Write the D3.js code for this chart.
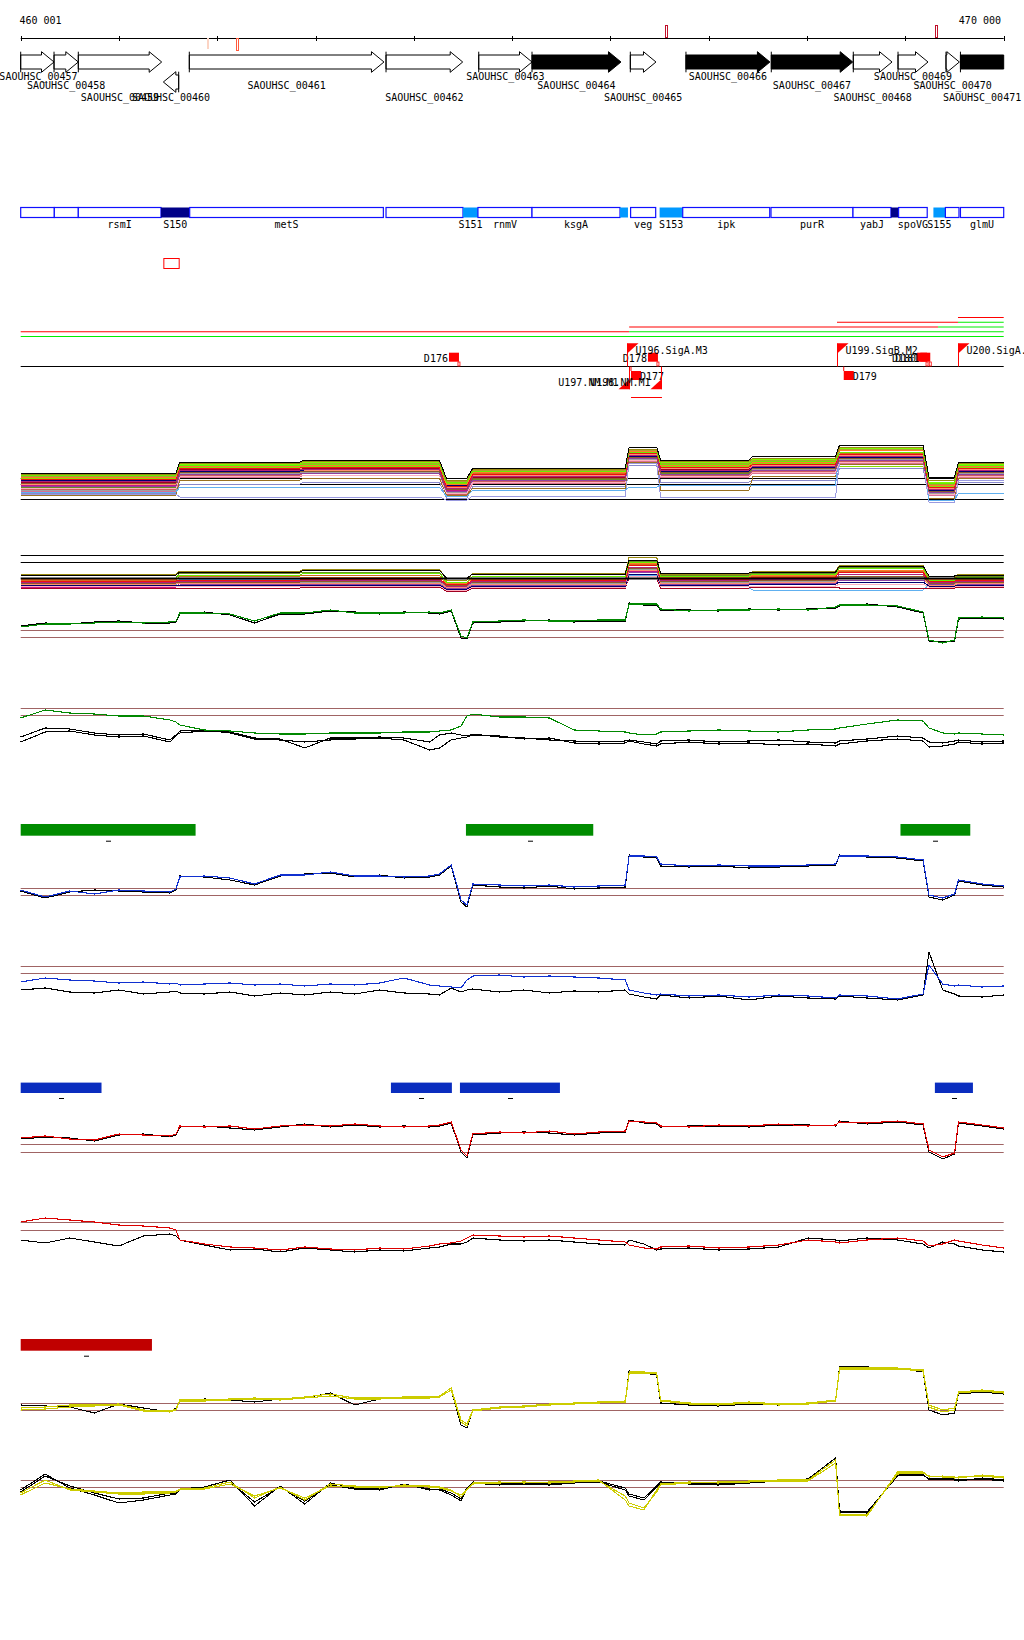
<!DOCTYPE html>
<html>
<head>
<meta charset="utf-8">
<script src="https://cdn.jsdelivr.net/npm/d3@7"></script>
<style>
  body { margin: 0; background: #fff; }
  text { font-family: "DejaVu Sans Mono", monospace; font-size: 10px; fill: #000; }
</style>
</head>
<body>
<div id="chart"></div>
<script>
/** DATA */
// genes (bp)
const geneNames  = ["SAOUHSC_00457","SAOUHSC_00458","SAOUHSC_00459","SAOUHSC_00460","SAOUHSC_00461","SAOUHSC_00462","SAOUHSC_00463","SAOUHSC_00464","SAOUHSC_00465","SAOUHSC_00466","SAOUHSC_00467","SAOUHSC_00468","SAOUHSC_00469","SAOUHSC_00470","SAOUHSC_00471"];
const geneStart  = [460001,460340,460587,461452,461716,463717,464660,465202,466202,466768,467636,468470,468925,469413,469560];
const geneEnd    = [460340,460587,461435,461608,463696,464497,465202,466107,466463,467622,468464,468864,469230,469549,470100];
const geneStrand = ["+","+","+","-","+","+","+","+","+","+","+","+","+","+","+"];
const geneEssential = [0,0,0,0,0,0,0,1,0,1,1,0,0,0,1];

// snp-like marks on the ruler
const rulerMarkPos  = [461896, 462186, 466550, 469301];
const rulerMarkKind = ["light", "low", "high", "high"];

// annotated features (blue track)
const featStart = [460001,460343,460587,461428,461720,463717,464500,464652,465202,466097,466205,466500,466735,467633,468467,468853,468931,469285,469407,469560];
const featEnd   = [460343,460587,461428,461720,463690,464500,464652,465202,466097,466178,466460,466735,467620,468467,468853,468931,469222,469407,469545,470000];
const featType  = ["cds","cds","cds","srna","cds","cds","utr","cds","cds","utr","cds","utr","cds","cds","cds","srna","cds","utr","cds","cds"];
const featName  = ["","","rsmI","S150","metS","","S151","rnmV","ksgA","","veg","S153","ipk","purR","yabJ","","spoVG","S155","","glmU"];

const boxStart = [461452], boxEnd = [461608];

// transcripts
const txStart = [460001,460001,466190,466190,469332,468304,469535,469535];
const txEnd   = [470000,466190,470000,469332,470000,469535,470000,470000];
const txLevel = [0,1,1,2,2,3,3,4];
const txType  = ["g","r","g","r","g","r","g","r"];

// terminators / promoters
const termNames  = ["D176","D178","D177","D179","D180","D181"];
const termPos    = [464459,466483,466209,468373,469220,469253];
const termStrand = ["+","+","-","-","+","+"];
const promNames  = ["U196.SigA.M3","U197.NM.M1","U198.NM.M1","U199.SigB.M2","U200.SigA.M3"];
const promPos    = [466168,466185,466517,468304,469535];
const promStrand = ["+","-","-","+","+"];
const operonStart = [466209], operonEnd = [466524];

// shared sample positions for the profile tracks
const pos = [460000,460250,460500,460750,461000,461250,461520,461580,461620,461870,462130,462380,462640,462890,463150,463400,463650,463900,464160,464260,464380,464480,464540,464600,464870,465120,465380,465630,465880,466150,466190,466340,466470,466510,466800,467100,467410,467710,468010,468290,468330,468610,468920,469180,469240,469380,469500,469540,469780,470000];

const green1Green = [23,26,26,27,28,27,28,29,37,37,36,29,37,37,40,37,37,37,38,37,40,14,12,28,29,30,29,29,30,30,46,46,46,41,39,40,40,41,40,43,45,45,44,38,10,7,10,32,33,32];
const green1Black = [24,27,26,28,29,27,27,28,36,38,35,27,36,36,39,38,36,38,37,36,39,12,11,27,28,29,30,28,29,29,47,45,45,40,40,39,41,40,41,42,44,46,43,37,9,8,9,31,32,31];
const green2Green = [42,50,47,46,44,44,40,38,35,30,29,27,26,26,27,27,27,28,28,29,30,34,44,46,43,43,42,30,29,28,27,25,26,28,29,30,29,28,30,31,32,36,40,39,32,27,26,27,26,25];
const green2BlackA = [23,32,31,27,25,26,20,25,27,29,28,22,21,12,22,22,23,22,18,25,27,25,24,26,23,22,20,19,18,19,20,18,16,19,20,18,19,20,18,17,19,21,24,22,18,17,19,20,18,19];
const green2BlackB = [18,28,29,25,23,24,18,24,29,30,27,21,20,18,20,21,22,20,10,12,20,22,23,25,24,21,22,17,16,17,19,16,14,16,18,16,17,15,16,14,16,19,21,19,13,14,16,18,16,17];
const blue1Blue  = [20,13,19,16,20,19,18,21,33,34,32,26,35,35,38,34,34,33,34,36,45,10,5,26,25,24,25,23,24,25,54,54,53,46,44,45,44,44,45,46,54,54,53,50,15,12,16,30,26,24];
const blue1Black = [19,12,18,20,19,18,17,20,34,33,30,25,34,36,37,33,35,32,33,35,44,8,3,25,23,22,24,21,22,23,55,53,52,44,43,44,42,43,44,45,55,53,52,49,13,10,15,29,25,23];
const blue2Blue  = [38,42,40,39,37,38,36,37,35,36,37,35,36,34,36,35,37,42,35,34,33,32,40,44,45,43,44,43,42,40,30,27,25,26,24,25,23,25,24,22,25,24,21,26,55,36,34,35,33,34];
const blue2Black = [30,32,28,27,30,26,28,29,27,26,28,24,27,25,28,26,30,27,26,25,32,28,30,31,28,30,27,29,28,30,26,23,21,25,22,24,20,24,22,21,24,22,20,25,68,30,26,24,23,25];
const red1Red   = [27,29,26,25,31,30,29,31,39,38,39,36,39,40,39,41,39,38,39,40,43,15,9,31,33,32,34,31,33,34,44,43,42,39,38,40,39,41,39,40,43,42,44,41,15,8,12,43,40,37];
const red1Black = [26,28,27,24,30,31,28,30,38,39,37,35,38,41,38,40,38,39,38,39,42,13,7,30,32,33,32,30,32,33,45,42,41,38,39,39,38,40,40,39,44,41,43,40,13,6,11,42,39,36];
const red2Red   = [43,47,45,43,40,39,37,35,25,21,18,17,15,18,16,15,17,16,19,21,22,24,27,30,29,28,29,27,25,23,20,17,16,18,19,17,18,20,25,23,22,25,27,24,19,21,25,24,20,17];
const red2Black = [25,22,27,23,19,29,31,29,25,20,15,16,13,17,15,13,15,14,17,18,21,21,23,27,25,24,25,23,21,20,25,21,15,16,17,15,16,18,27,25,24,27,25,21,17,23,21,19,15,13];
const yel1Yellow  = [32,33,35,35,36,30,29,31,40,40,41,42,41,43,46,42,42,43,43,44,52,20,16,30,33,34,36,37,38,39,68,68,67,40,37,36,38,36,37,40,72,72,72,70,35,30,32,48,50,48];
const yel1Yellow2 = [30,31,33,34,35,29,28,30,39,39,40,41,40,42,44,41,41,42,42,43,50,18,14,29,32,33,35,36,37,38,66,67,66,39,36,35,37,35,36,39,71,71,71,69,33,28,30,47,49,47];
const yel1Black   = [35,34,33,27,36,32,28,32,39,41,40,38,41,42,47,35,41,42,42,43,50,15,12,30,32,33,35,36,37,38,69,67,65,37,35,34,36,35,36,39,73,73,72,68,30,25,27,46,48,46];
const yel2Yellow  = [27,40,30,28,26,26,27,28,30,32,38,22,33,20,36,34,32,35,34,33,30,23,30,37,38,37,38,39,40,20,14,10,30,36,38,37,39,40,40,60,5,4,48,48,43,44,42,43,44,42];
const yel2Yellow2 = [25,37,31,29,27,28,28,29,31,31,36,24,32,22,34,33,33,34,33,32,29,25,31,36,37,38,37,38,39,24,17,12,28,35,37,38,38,39,39,57,6,5,46,47,44,43,43,42,45,43];
const yel2Black   = [30,46,32,25,17,20,25,26,31,33,40,14,34,16,37,32,30,36,30,31,27,21,32,38,36,37,36,38,39,32,26,22,34,38,37,36,38,40,41,62,9,8,44,46,40,42,40,39,42,40];
const yel2Black2  = [28,44,34,27,21,22,27,27,30,32,38,18,33,19,35,31,31,35,31,30,25,19,31,37,35,36,35,37,38,30,24,20,33,37,36,35,37,39,40,60,8,7,45,45,41,41,41,40,41,39];

// region levels for the many-sample tracks
const regStart = [460000,461620,462880,464330,464600,466190,466510,467450,468330,469240,469540];
const regEnd   = [461580,462840,464260,464540,466150,466470,467410,468290,469180,469500,470000];
const allLevels = [
  [37,48,50,32,42,63,50,54,65,33,48],
  [36,47,49,30,41,61,49,52,63,30,47],
  [35,45,46,28,39,58,46,49,58,27,45],
  [33,44,45,26,38,59,45,48,60,25,44],
  [31,42,43,24,36,57,43,46,56,23,42],
  [29,40,41,22,34,55,40,44,54,21,40],
  [27,38,39,21,32,53,38,42,52,19,38],
  [26,42,40,23,35,56,42,45,55,22,41],
  [24,36,37,19,30,52,36,40,50,18,36],
  [30,39,40,25,34,54,39,43,53,20,39],
  [22,34,35,17,28,50,34,38,48,16,34],
  [20,37,38,18,32,51,40,41,51,17,37],
  [28,41,42,23,33,55,41,45,55,21,40],
  [18,23,23,14,20,23,25,25,60,10,17],
  [16,13,13,10,14,47,13,13,48,8,30],
  [15,30,32,15,22,48,20,34,46,12,32],
  [32,43,44,27,38,48,44,47,44,24,43],
  [34,45,47,29,40,60,47,50,61,26,45],
  [31,43,45,25,37,58,44,47,57,24,43],
  [28,40,43,22,35,56,42,45,54,22,41],
  [25,39,41,20,33,54,39,43,52,20,39],
  [23,37,39,18,31,52,37,41,50,18,37],
  [21,35,37,16,29,50,35,39,49,16,35],
  [33,46,48,28,40,60,48,51,62,28,46],
  [19,33,35,15,27,49,33,37,47,15,33],
  [17,26,28,12,24,45,28,30,42,12,28]
];
const subLevels = [
  [25,28,30,22,26,40,27,28,34,24,25],
  [26,29,31,20,27,43,26,29,35,22,26],
  [22,25,27,18,24,38,24,26,32,20,23],
  [21,22,23,17,22,37,23,25,30,21,22],
  [19,20,21,16,20,35,21,23,28,19,20],
  [18,19,20,14,19,33,20,21,26,18,19],
  [17,18,19,15,18,32,19,20,24,17,18],
  [16,17,17,13,16,30,17,18,22,15,17],
  [17,16,16,12,15,28,16,17,20,16,16],
  [15,15,15,11,14,26,15,16,18,14,15],
  [14,14,14,10,13,24,14,14,16,13,14],
  [18,18,18,14,17,31,18,19,23,17,17],
  [12,12,13,9,12,22,12,13,12,12,13],
  [15,21,22,12,15,25,12,10,10,15,14],
  [20,24,25,15,21,36,22,24,29,19,21],
  [16,21,22,13,18,33,19,21,26,16,19],
  [13,17,18,11,15,29,16,18,22,14,16],
  [22,27,28,17,24,39,25,27,33,21,24]
];

// significant regions
const greenBarStart = [460001,464530,468950], greenBarEnd = [461780,465825,469660];
const blueBarStart  = [460001,463767,464469,469300], blueBarEnd = [460823,464387,465486,469687];
const redBarStart   = [460001], redBarEnd = [461336];

/** CONSTANTS */
const width = 1024, height = 1640;
const xScale = d3.scaleLinear().domain([460001, 470000]).range([20.7, 1003.7]);

const svg = d3.select("#chart").append("svg")
  .attr("width", width).attr("height", height)
  .style("display", "block");
svg.append("rect").attr("width", width).attr("height", height).attr("fill", "#fff");

/** RULER */
const axisY = 38.5;
svg.append("line").attr("x1", xScale(460001)).attr("x2", xScale(470000))
  .attr("y1", axisY).attr("y2", axisY).attr("stroke", "#000");
const tickVals = d3.range(0, 11).map(i => i === 0 ? 460001 : 460000 + i * 1000);
svg.selectAll(".tick").data(tickVals).join("line")
  .attr("x1", d => Math.round(xScale(d)) + 0.5).attr("x2", d => Math.round(xScale(d)) + 0.5)
  .attr("y1", axisY - 2.5).attr("y2", axisY + 2.5).attr("stroke", "#000");
svg.append("text").attr("x", 19.5).attr("y", 24).text("460 001");
svg.append("text").attr("x", 1001).attr("y", 24).attr("text-anchor", "end").text("470 000");

rulerMarkPos.forEach((p, i) => {
  const k = rulerMarkKind[i];
  const x = Math.round(xScale(p));
  if (k === "light") {
    svg.append("rect").attr("x", x).attr("y", 38).attr("width", 2).attr("height", 11).attr("fill", "#fcd4c4");
  } else if (k === "low") {
    svg.append("rect").attr("x", x + 0.5).attr("y", 38.5).attr("width", 2).attr("height", 12).attr("fill", "none").attr("stroke", "#ff5a3c");
  } else {
    svg.append("rect").attr("x", x + 0.5).attr("y", 25.5).attr("width", 2).attr("height", 12).attr("fill", "none").attr("stroke", "#c0102a");
  }
});

/** GENES */
const labelRow = [0,1,2,2,1,2,0,1,2,0,1,2,0,1,2];
const labelBase = [79.5, 88.5, 100.5];
const gTop = 51.7, gH = 20.6;
geneNames.forEach((name, i) => {
  const x0 = xScale(geneStart[i]);
  const x1 = Math.min(xScale(geneEnd[i]), xScale(470000));
  const truncated = geneEnd[i] > 470000;
  const top = geneStrand[i] === "+" ? gTop : gTop + 20;
  const b0 = top + 3.3, b1 = top + gH - 3.3, mid = top + gH / 2, bot = top + gH;
  const head = truncated ? 0 : Math.min(12.5, x1 - x0);
  let pts;
  if (geneStrand[i] === "+") {
    const xh = x1 - head;
    pts = [[x0, b0], [xh, b0], [xh, top], [x1, mid], [xh, bot], [xh, b1], [x0, b1]];
    if (truncated) pts = [[x0, b0], [x1, b0], [x1, b1], [x0, b1]];
  } else {
    const xh = x0 + head;
    pts = [[x1, b0], [xh, b0], [xh, top], [x0, mid], [xh, bot], [xh, b1], [x1, b1]];
  }
  svg.append("path").attr("d", d3.line()(pts) + "Z")
    .attr("fill", geneEssential[i] ? "#000" : "#fff").attr("stroke", "#000").attr("stroke-width", 1);
  const tx = geneStrand[i] === "+" ? x0 : x1;
  svg.append("line").attr("x1", tx).attr("x2", tx).attr("y1", top).attr("y2", bot).attr("stroke", "#000");
  svg.append("text").attr("x", Math.max(38.5, (xScale(geneStart[i]) + x1) / 2)).attr("y", labelBase[labelRow[i]])
    .attr("text-anchor", "middle").text(name);
});

/** FEATURES */
const fTop = 207.5, fH = 10;
const featColor = { cds: "#fff", srna: "#000088", utr: "#0099ff" };
featStart.forEach((s, i) => {
  const x0 = xScale(s), x1 = xScale(featEnd[i]);
  svg.append("rect").attr("x", x0).attr("y", fTop).attr("width", x1 - x0).attr("height", fH)
    .attr("fill", featColor[featType[i]])
    .attr("stroke", featType[i] === "cds" ? "#1010ff" : "none").attr("stroke-width", 1.2);
  if (featName[i]) {
    svg.append("text").attr("x", (x0 + x1) / 2).attr("y", 227.5).attr("text-anchor", "middle").text(featName[i]);
  }
});
boxStart.forEach((s, i) => {
  svg.append("rect").attr("x", xScale(s) + 0.5).attr("y", 258.5)
    .attr("width", xScale(boxEnd[i]) - xScale(s)).attr("height", 10)
    .attr("fill", "none").attr("stroke", "#ff0000");
});

/** TRANSCRIPTS */
txStart.forEach((s, i) => {
  const y = 336.5 - txLevel[i] * 4.75;
  svg.append("line").attr("x1", xScale(s)).attr("x2", xScale(txEnd[i]))
    .attr("y1", y).attr("y2", y)
    .attr("stroke", txType[i] === "r" ? "#ff0000" : "#00ee00").attr("stroke-width", 1.2);
});

const baseY = 366.5;
svg.append("line").attr("x1", xScale(460001)).attr("x2", xScale(470000))
  .attr("y1", baseY).attr("y2", baseY).attr("stroke", "#000").attr("stroke-width", 1.2);

termNames.forEach((n, i) => {
  const x = xScale(termPos[i]);
  if (termStrand[i] === "+") {
    svg.append("rect").attr("x", x - 10).attr("y", 352.7).attr("width", 10).attr("height", 9).attr("fill", "#ff0000");
    svg.append("rect").attr("x", x - 1).attr("y", 362).attr("width", 2).attr("height", 4).attr("fill", "none").attr("stroke", "#ff0000").attr("stroke-width", 0.8);
    svg.append("text").attr("x", x - 11).attr("y", 361.5).attr("text-anchor", "end").text(n);
  } else {
    svg.append("line").attr("x1", x).attr("x2", x).attr("y1", baseY).attr("y2", 371).attr("stroke", "#ff0000");
    svg.append("rect").attr("x", x).attr("y", 371).attr("width", 10).attr("height", 9).attr("fill", "#ff0000");
    svg.append("text").attr("x", x + 9).attr("y", 380).text(n);
  }
});

promNames.forEach((n, i) => {
  const x = Math.round(xScale(promPos[i])) + 0.5;
  if (promStrand[i] === "+") {
    svg.append("line").attr("x1", x).attr("x2", x).attr("y1", 343.3).attr("y2", baseY).attr("stroke", "#ff0000");
    svg.append("path").attr("d", d3.line()([[x, 343.3], [x + 11, 343.3], [x, 353.3]]) + "Z").attr("fill", "#ff0000");
    svg.append("text").attr("x", x + 8).attr("y", 354).text(n);
  } else {
    svg.append("line").attr("x1", x).attr("x2", x).attr("y1", baseY).attr("y2", 389.3).attr("stroke", "#ff0000");
    svg.append("path").attr("d", d3.line()([[x, 389.3], [x - 11, 389.3], [x, 379.3]]) + "Z").attr("fill", "#ff0000");
    svg.append("text").attr("x", x - 11).attr("y", 386).attr("text-anchor", "end").text(n);
  }
});
operonStart.forEach((s, i) => {
  svg.append("line").attr("x1", xScale(s)).attr("x2", xScale(operonEnd[i]))
    .attr("y1", 397.5).attr("y2", 397.5).attr("stroke", "#ff0000");
});

/** PROFILE PANELS */
const refColor = "#a06464";
function panelScale(bottom) {
  return d3.scaleLinear().domain([0, 100]).range([bottom, bottom - 100]);
}
function drawRefs(yScale, refs, color, widths) {
  refs.forEach((r, i) => {
    const y = Math.round(yScale(r)) + 0.5;
    svg.append("line").attr("x1", xScale(460001)).attr("x2", xScale(470000))
      .attr("y1", y).attr("y2", y).attr("stroke", color)
      .attr("stroke-width", widths ? widths[i] : 1);
  });
}
function drawSeries(yScale, values, color) {
  const line = d3.line().x((d, i) => xScale(pos[i])).y(d => yScale(d));
  svg.append("path").datum(values).attr("d", line)
    .attr("fill", "none").attr("stroke", color).attr("stroke-width", 1.1)
    .attr("shape-rendering", "crispEdges");
}
function drawLevels(yScale, levels, color) {
  const pts = [];
  levels.forEach((v, k) => { pts.push([regStart[k], v], [regEnd[k], v]); });
  const line = d3.line().x(d => xScale(d[0])).y(d => yScale(d[1]));
  svg.append("path").datum(pts).attr("d", line)
    .attr("fill", "none").attr("stroke", color).attr("stroke-width", 1)
    .attr("shape-rendering", "crispEdges");
}

const aColors = ["#000000","#9a8a10","#66ee00","#ff7a2a","#ee1111","#b0207a","#8b5a2b","#ff9070","#9040a0","#000070","#ffb0c0","#a0a0a0","#a00020","#60b0f0","#9a9ae0","#9a7020","#88dd00","#b0a030","#d2691e","#ff4500","#c71585","#6b8e23","#cd5c5c","#7cfc00","#db7093","#8888cc"];
const bColors = aColors.slice(0, 14).concat(["#d2691e","#ff4500","#c71585","#6b8e23"]);

// panel A
const yA = panelScale(510);
drawRefs(yA, [31.7, 25.7, 10.7], "#000");
d3.range(allLevels.length - 1, -1, -1).forEach(k => drawLevels(yA, allLevels[k], aColors[k]));

// panel B
const yB = panelScale(600);
drawRefs(yB, [45, 37.7], "#000");
d3.range(subLevels.length - 1, -1, -1).forEach(k => drawLevels(yB, subLevels[k], bColors[k]));
drawRefs(yB, [22.3], "#000", [2]);

// green panels
const yG1 = panelScale(650);
drawRefs(yG1, [20, 12.7], refColor);
drawSeries(yG1, green1Black, "#000");
drawSeries(yG1, green1Green, "#008800");
const yG2 = panelScale(760);
drawRefs(yG2, [51.7, 44.7], refColor);
drawSeries(yG2, green2BlackA, "#000");
drawSeries(yG2, green2BlackB, "#000");
drawSeries(yG2, green2Green, "#008800");

function drawBars(starts, ends, top, h, color) {
  starts.forEach((s, i) => {
    const x0 = xScale(s), x1 = xScale(ends[i]);
    svg.append("rect").attr("x", x0).attr("y", top).attr("width", x1 - x0).attr("height", h).attr("fill", color);
    svg.append("rect").attr("x", Math.round((x0 + x1) / 2) - 2).attr("y", top + h + 5).attr("width", 5).attr("height", 1).attr("fill", "#000");
  });
}
drawBars(greenBarStart, greenBarEnd, 824, 11.7, "#008c00");

// blue panels
const yBl1 = panelScale(910);
drawRefs(yBl1, [21.7, 14.7], refColor);
drawSeries(yBl1, blue1Black, "#000");
drawSeries(yBl1, blue1Blue, "#1030d0");
const yBl2 = panelScale(1020);
drawRefs(yBl2, [54.5, 47.2], refColor);
drawSeries(yBl2, blue2Black, "#000");
drawSeries(yBl2, blue2Blue, "#1030d0");
drawBars(blueBarStart, blueBarEnd, 1082.6, 10.4, "#0a2dbf");

// red panels
const yR1 = panelScale(1165);
drawRefs(yR1, [20.7, 13.4], refColor);
drawSeries(yR1, red1Black, "#000");
drawSeries(yR1, red1Red, "#dd0000");
const yR2 = panelScale(1265);
drawRefs(yR2, [43.3, 35], refColor);
drawSeries(yR2, red2Black, "#000");
drawSeries(yR2, red2Red, "#dd0000");
drawBars(redBarStart, redBarEnd, 1339, 11.7, "#c00000");

// yellow panels
const yY1 = panelScale(1440);
drawRefs(yY1, [36.7, 29.7], refColor);
drawSeries(yY1, yel1Black, "#000");
drawSeries(yY1, yel1Yellow2, "#cccc00");
drawSeries(yY1, yel1Yellow, "#cccc00");
const yY2 = panelScale(1520);
drawRefs(yY2, [39.7, 32.7], refColor);
drawSeries(yY2, yel2Black, "#000");
drawSeries(yY2, yel2Black2, "#000");
drawSeries(yY2, yel2Yellow2, "#cccc00");
drawSeries(yY2, yel2Yellow, "#cccc00");
</script>
</body>
</html>
